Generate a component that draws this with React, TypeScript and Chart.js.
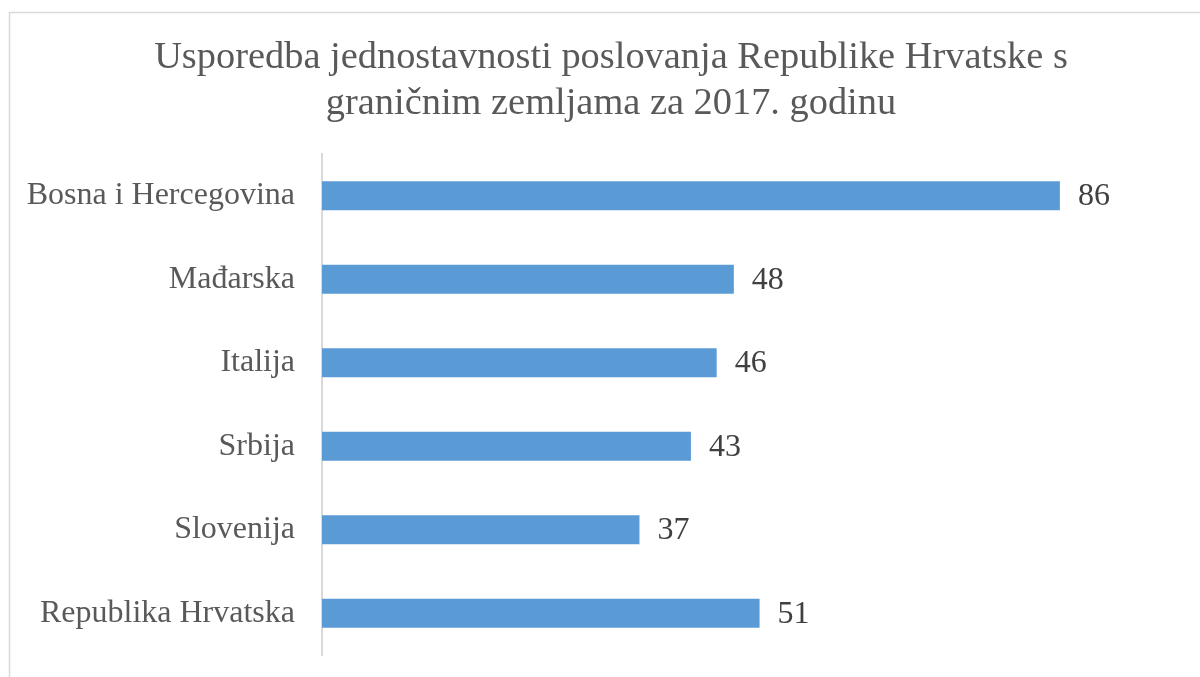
import React, { useEffect, useRef } from "react";
import { Chart, registerables } from "chart.js";

Chart.register(...registerables);

const titleLines = [
  "Usporedba jednostavnosti poslovanja Republike Hrvatske s",
  "graničnim zemljama za 2017. godinu",
];
const categories = [
  "Bosna i Hercegovina",
  "Mađarska",
  "Italija",
  "Srbija",
  "Slovenija",
  "Republika Hrvatska",
];
const values = [86, 48, 46, 43, 37, 51];

const FONT = "'Liberation Serif', 'Times New Roman', serif";

const decorPlugin = {
  id: "decor",
  beforeDraw(chart: any) {
    const ctx = chart.ctx;
    ctx.save();
    ctx.fillStyle = "#ffffff";
    ctx.fillRect(0, 0, chart.width, chart.height);
    ctx.strokeStyle = "#d9d9d9";
    ctx.lineWidth = 1.5;
    ctx.strokeRect(9.5, 12.5, 1204, 700);
    ctx.fillStyle = "#595959";
    ctx.font = `38.4px ${FONT}`;
    ctx.textAlign = "center";
    ctx.textBaseline = "alphabetic";
    ctx.fillText(titleLines[0], 611, 68);
    ctx.fillText(titleLines[1], 611, 114);
    ctx.restore();
  },
  afterDatasetsDraw(chart: any) {
    const ctx = chart.ctx;
    const meta = chart.getDatasetMeta(0);
    ctx.save();
    ctx.fillStyle = "#404040";
    ctx.font = `32px ${FONT}`;
    ctx.textAlign = "left";
    ctx.textBaseline = "middle";
    meta.data.forEach((bar: any, i: number) => {
      ctx.fillText(String(values[i]), bar.x + 18, bar.y + 1);
    });
    ctx.restore();
  },
};

export default function App() {
  const ref = useRef<HTMLCanvasElement>(null);
  useEffect(() => {
    if (!ref.current) return;
    const chart = new Chart(ref.current, {
      type: "bar",
      data: {
        labels: categories,
        datasets: [
          {
            data: values,
            backgroundColor: "#5b9bd5",
            borderWidth: 0,
            categoryPercentage: 1,
            barPercentage: 0.35,
          },
        ],
      },
      options: {
        indexAxis: "y",
        animation: false,
        responsive: false,
        maintainAspectRatio: false,
        layout: { padding: { top: 154, bottom: 22, left: 0, right: 20 } },
        plugins: {
          legend: { display: false },
          title: { display: false },
          tooltip: { enabled: false },
        },
        scales: {
          x: {
            display: false,
            min: 0,
            max: 100,
          },
          y: {
            afterFit(scale: any) {
              scale.width = 322;
              scale.paddingTop = 0;
              scale.paddingBottom = 0;
            },
            grid: { display: false, drawTicks: false },
            border: { display: true, color: "#d9d9d9", width: 2 },
            ticks: {
              color: "#595959",
              padding: 27,
              font: { family: FONT, size: 32 },
            },
          },
        },
      },
      plugins: [decorPlugin],
    });
    return () => chart.destroy();
  }, []);
  return (
    <div style={{ position: "fixed", left: 0, top: 0, width: 1200, height: 677 }}>
      <canvas ref={ref} width={1200} height={677} style={{ width: 1200, height: 677 }} />
    </div>
  );
}
